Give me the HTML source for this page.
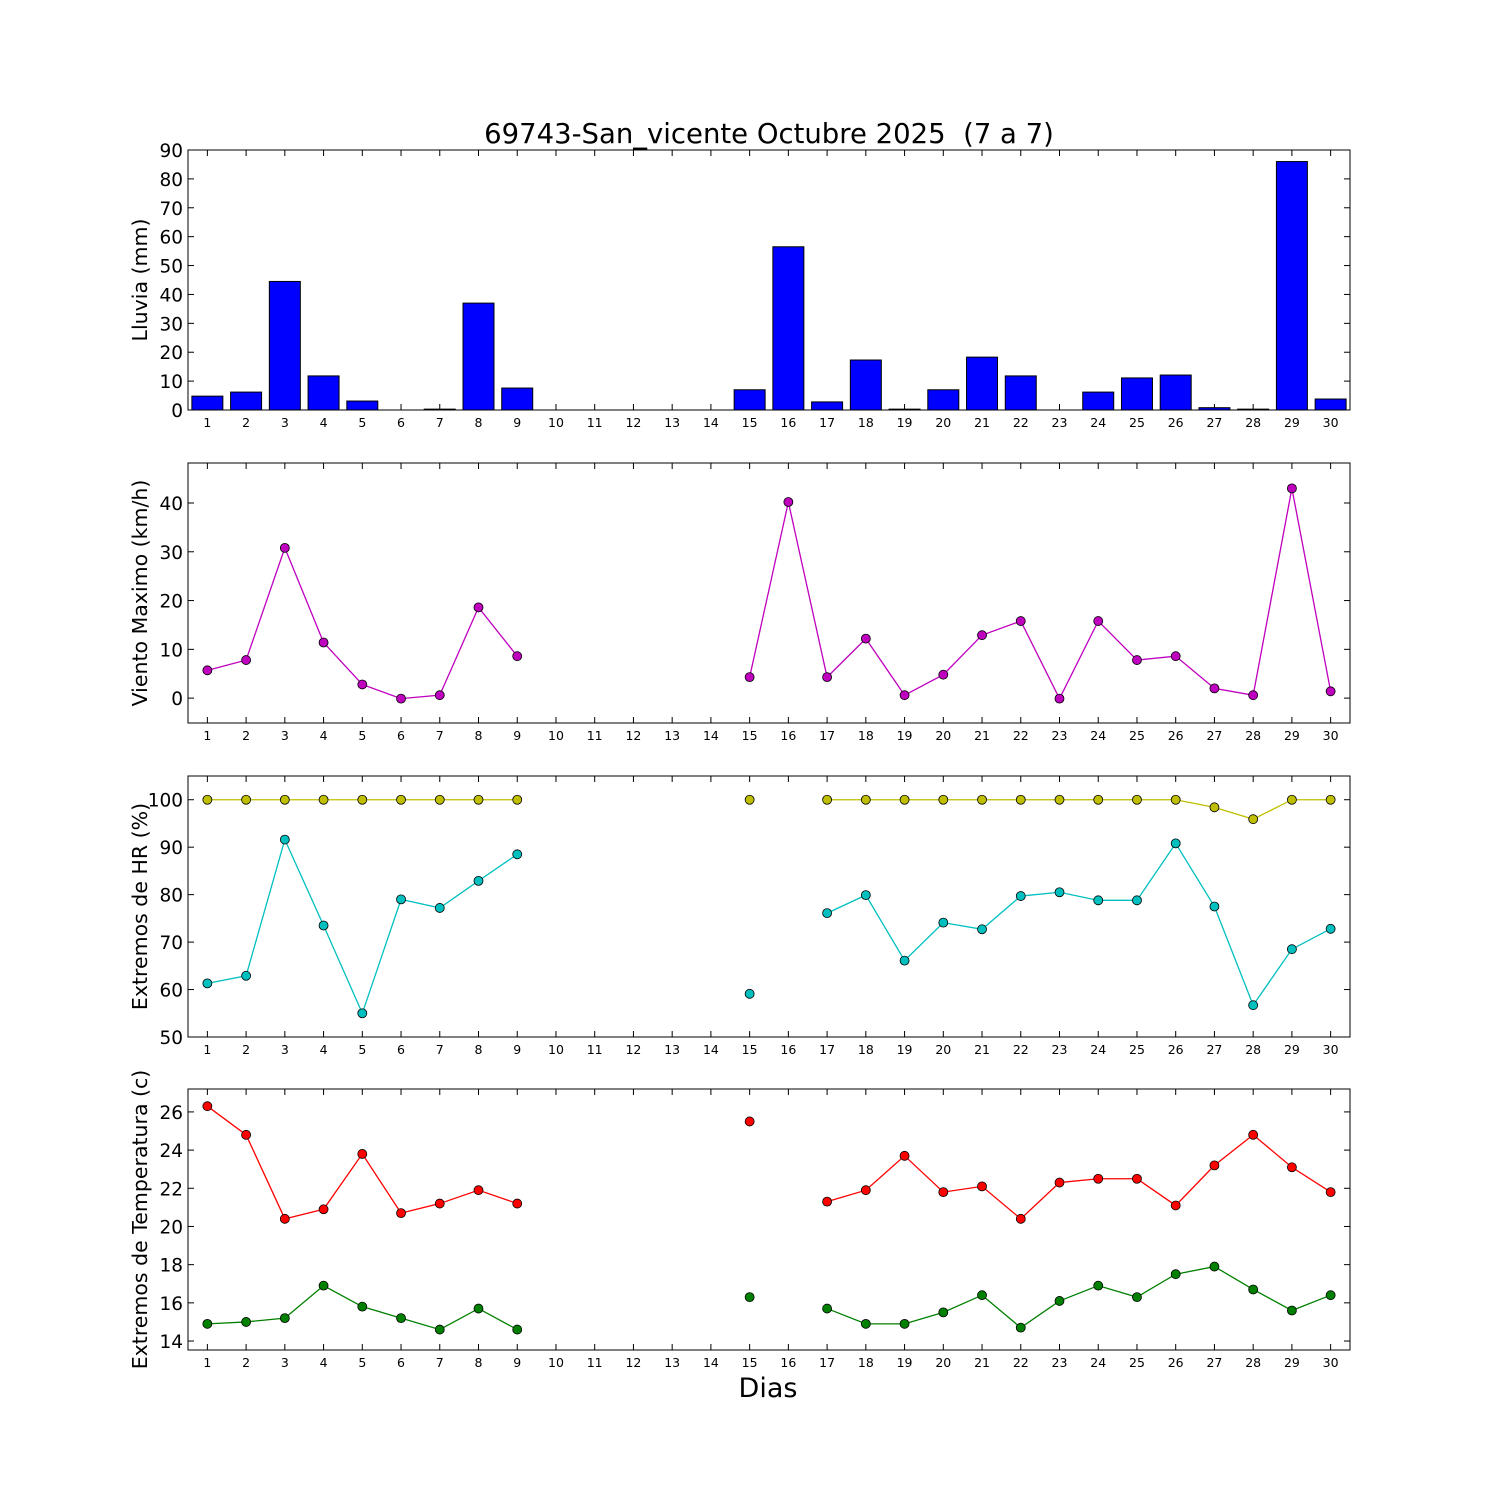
<!DOCTYPE html>
<html><head><meta charset="utf-8"><style>
body{margin:0;background:#fff}
svg{display:block;font-family:"DejaVu Sans","Liberation Sans",sans-serif}
</style></head><body>
<svg id="c" width="1500" height="1500" xmlns="http://www.w3.org/2000/svg">
<rect width="1500" height="1500" fill="#fff"/>
<text x="769" y="143" font-size="27.5" text-anchor="middle" style="white-space:pre">69743-San_vicente Octubre 2025  (7 a 7)</text>
<text x="768" y="1397" font-size="27" text-anchor="middle">Dias</text>
</svg>
<script>
const days=[1,2,3,4,5,6,7,8,9,10,11,12,13,14,15,16,17,18,19,20,21,22,23,24,25,26,27,28,29,30];
const rain=[4.8,6.2,44.5,11.8,3.1,0,0.3,37,7.6,0,0,0,0,0,7,56.5,2.8,17.3,0.3,7,18.3,11.8,0,6.2,11.1,12.1,0.8,0.3,86,3.8];
const wind=[5.7,7.8,30.8,11.4,2.8,-0.1,0.6,18.6,8.6,null,null,null,null,null,4.3,40.2,4.3,12.2,0.6,4.8,12.9,15.8,-0.1,15.8,7.8,8.6,2,0.6,43,1.4];
const hrMax=[100,100,100,100,100,100,100,100,100,null,null,null,null,null,100,null,100,100,100,100,100,100,100,100,100,100,98.4,95.9,100,100];
const hrMin=[61.3,62.9,91.6,73.5,55,79,77.2,82.9,88.5,null,null,null,null,null,59.1,null,76.1,79.9,66.1,74.1,72.7,79.7,80.5,78.8,78.8,90.8,77.5,56.7,68.5,72.8];
const tMax=[26.3,24.8,20.4,20.9,23.8,20.7,21.2,21.9,21.2,null,null,null,null,null,25.5,null,21.3,21.9,23.7,21.8,22.1,20.4,22.3,22.5,22.5,21.1,23.2,24.8,23.1,21.8];
const tMin=[14.9,15.0,15.2,16.9,15.8,15.2,14.6,15.7,14.6,null,null,null,null,null,16.3,null,15.7,14.9,14.9,15.5,16.4,14.7,16.1,16.9,16.3,17.5,17.9,16.7,15.6,16.4];
const rainTicks=[0,10,20,30,40,50,60,70,80,90];
const windTicks=[0,10,20,30,40];
const hrTicks=[50,60,70,80,90,100];
const tTicks=[14,16,18,20,22,24,26];

const svg=document.getElementById('c');
const NS='http://www.w3.org/2000/svg';
const L=188,R=1350;
function x(d){return L+(d-0.5)/30*(R-L);}
function mk(tag,at,txt){const e=document.createElementNS(NS,tag);for(const k in at)e.setAttribute(k,at[k]);if(txt!==undefined)e.textContent=txt;svg.appendChild(e);return e;}
function panel(name,top,bot,ymin,ymax,ticks,label){
  const y=v=>bot-(v-ymin)/(ymax-ymin)*(bot-top);
  const g={y};
  ticks.forEach(t=>{
    const yy=y(t);
    const l=mk('line',{x1:L,x2:L+6,y1:yy,y2:yy,stroke:'#000'});
    
    
    mk('line',{x1:R-6,x2:R,y1:yy,y2:yy,stroke:'#000'});
    const tx=mk('text',{x:L-5,y:yy+7,'font-size':18.5,'text-anchor':'end'},t);
    
    
  });
  days.forEach(d=>{
    const xx=x(d);
    mk('line',{x1:xx,x2:xx,y1:bot,y2:bot-6,stroke:'#000'});
    mk('line',{x1:xx,x2:xx,y1:top,y2:top+6,stroke:'#000'});
    const tx=mk('text',{x:xx,y:bot+17,'font-size':12.5,'text-anchor':'middle'},d);
    
    
  });
  const yl=mk('text',{x:0,y:0,'font-size':20.5,'text-anchor':'middle',transform:`translate(147,${(top+bot)/2}) rotate(-90)`},label);
  
  
  return g;
}
function frame(name,top,bot){
  const r=mk('rect',{x:L,y:top,width:R-L,height:bot-top,fill:'none',stroke:'#000','stroke-width':1});
  
  
}
function series(name,vals,y,color){
  let seg=[];const segs=[];
  vals.forEach((v,i)=>{if(v===null){if(seg.length)segs.push(seg);seg=[];}else seg.push([x(days[i]),y(v)]);});
  if(seg.length)segs.push(seg);
  segs.forEach(s=>{if(s.length>1){const p=mk('polyline',{points:s.map(q=>q.join(',')).join(' '),fill:'none',stroke:color,'stroke-width':1.3});
    
    }});
  vals.forEach((v,i)=>{if(v===null)return;
    const c=mk('circle',{cx:x(days[i]),cy:y(v),r:4.5,fill:color,stroke:'#000','stroke-width':0.8});
    
    });
}
let p=panel('rain',150,410,0,90,rainTicks,'Lluvia (mm)');
const bw=(R-L)/30*0.8;
rain.forEach((v,i)=>{
  const b=mk('rect',{x:x(days[i])-bw/2,y:p.y(v),width:bw,height:410-p.y(v),fill:'#0000ff',stroke:'#000','stroke-width':1});
  
  
});
frame('rain',150,410);
p=panel('wind',463,723,-5.1,48.2,windTicks,'Viento Maximo (km/h)');
series('wind',wind,p.y,'#bf00bf');
frame('wind',463,723);
p=panel('hr',776,1037,50,105,hrTicks,'Extremos de HR (%)');
series('hr-max',hrMax,p.y,'#bfbf00');
series('hr-min',hrMin,p.y,'#00bfbf');
frame('hr',776,1037);
p=panel('temp',1089,1350,13.53,27.2,tTicks,'Extremos de Temperatura (c)');
series('temp-max',tMax,p.y,'#ff0000');
series('temp-min',tMin,p.y,'#008000');
frame('temp',1089,1350);
</script>
</body></html>
